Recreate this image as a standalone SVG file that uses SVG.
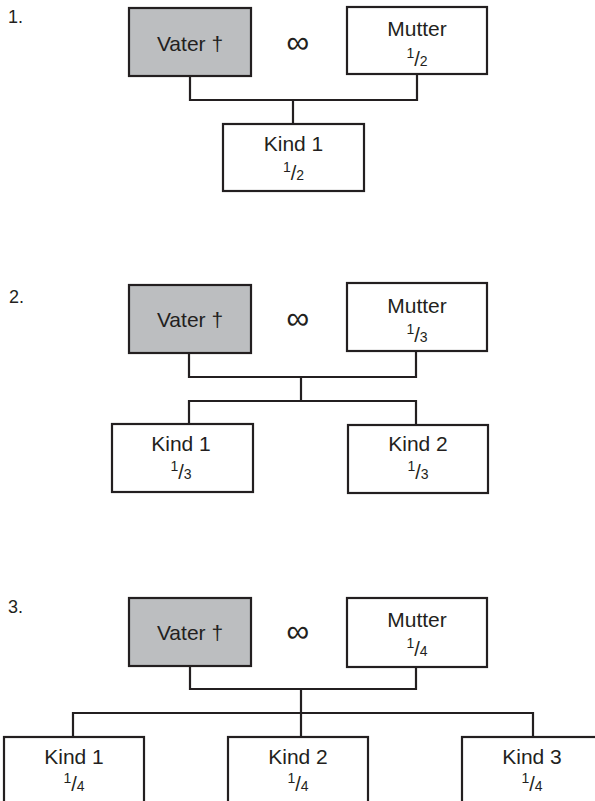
<svg xmlns="http://www.w3.org/2000/svg" width="595" height="801" viewBox="0 0 595 801">
<style>
.box{fill:#fff;stroke:#231f20;stroke-width:2.2}
.dead{fill:#bcbec0;stroke:#231f20;stroke-width:2.2}
.t{font-family:"Liberation Sans",Arial,sans-serif;font-size:21px;fill:#231f20;text-anchor:middle}
.num{font-size:14px}
.sl{font-size:20px}
.lbl{font-family:"Liberation Sans",Arial,sans-serif;font-size:18px;fill:#231f20}
.inf{font-family:"Liberation Sans",Arial,sans-serif;font-size:32px;fill:#231f20;text-anchor:middle}
.c{fill:none;stroke:#231f20;stroke-width:2.2}
</style>
<rect width="595" height="801" fill="#fff"/>

<!-- Section 1 -->
<text class="lbl" x="8" y="23">1.</text>
<g id="s1-vater"><rect class="dead" x="129" y="8" width="122" height="68"/><text class="t" x="190" y="50.5">Vater †</text></g>
<text class="inf" x="298" y="53">∞</text>
<g id="s1-mutter"><rect class="box" x="347" y="7" width="140" height="67"/><text class="t" x="417" y="36">Mutter</text><text class="t" x="417" y="66"><tspan class="num" dy="-8">1</tspan><tspan class="sl" dy="8">/</tspan><tspan class="num">2</tspan></text></g>
<g id="s1-kind1"><rect class="box" x="223" y="124" width="141" height="67"/><text class="t" x="293.5" y="150.5">Kind 1</text><text class="t" x="293.5" y="180"><tspan class="num" dy="-8">1</tspan><tspan class="sl" dy="8">/</tspan><tspan class="num">2</tspan></text></g>

<!-- Section 2 -->
<text class="lbl" x="9" y="303">2.</text>
<g id="s2-vater"><rect class="dead" x="129" y="285" width="122" height="68"/><text class="t" x="190" y="327">Vater †</text></g>
<text class="inf" x="298" y="329">∞</text>
<g id="s2-mutter"><rect class="box" x="347" y="283" width="140" height="68"/><text class="t" x="417" y="312.5">Mutter</text><text class="t" x="417" y="342"><tspan class="num" dy="-8">1</tspan><tspan class="sl" dy="8">/</tspan><tspan class="num">3</tspan></text></g>
<g id="s2-kind1"><rect class="box" x="112" y="424" width="141" height="68"/><text class="t" x="181" y="451">Kind 1</text><text class="t" x="181" y="479"><tspan class="num" dy="-8">1</tspan><tspan class="sl" dy="8">/</tspan><tspan class="num">3</tspan></text></g>
<g id="s2-kind2"><rect class="box" x="348" y="425" width="140" height="68"/><text class="t" x="418" y="451">Kind 2</text><text class="t" x="418" y="479"><tspan class="num" dy="-8">1</tspan><tspan class="sl" dy="8">/</tspan><tspan class="num">3</tspan></text></g>

<!-- Section 3 -->
<text class="lbl" x="8" y="613">3.</text>
<g id="s3-vater"><rect class="dead" x="129" y="598" width="122" height="68"/><text class="t" x="190" y="640">Vater †</text></g>
<text class="inf" x="298" y="642">∞</text>
<g id="s3-mutter"><rect class="box" x="347" y="598" width="140" height="69"/><text class="t" x="417" y="627">Mutter</text><text class="t" x="417" y="656"><tspan class="num" dy="-8">1</tspan><tspan class="sl" dy="8">/</tspan><tspan class="num">4</tspan></text></g>
<g id="s3-kind1"><rect class="box" x="4" y="737" width="140" height="72"/><text class="t" x="74" y="763.5">Kind 1</text><text class="t" x="74" y="791"><tspan class="num" dy="-8">1</tspan><tspan class="sl" dy="8">/</tspan><tspan class="num">4</tspan></text></g>
<g id="s3-kind2"><rect class="box" x="228" y="737" width="140" height="72"/><text class="t" x="298" y="763.5">Kind 2</text><text class="t" x="298" y="791"><tspan class="num" dy="-8">1</tspan><tspan class="sl" dy="8">/</tspan><tspan class="num">4</tspan></text></g>
<g id="s3-kind3"><rect class="box" x="462" y="737" width="140" height="72"/><text class="t" x="532" y="763.5">Kind 3</text><text class="t" x="532" y="791"><tspan class="num" dy="-8">1</tspan><tspan class="sl" dy="8">/</tspan><tspan class="num">4</tspan></text></g>

<g id="connectors">
<path class="c" d="M190,76 V100 H417 V74 M293,100 V124"/>
<path class="c" d="M189,353 V377 H416 V351 M301,377 V401 M189,424 V401 H416 V425"/>
<path class="c" d="M190,666 V689 H416 V667 M301,689 V737 M73,737 V713 H533 V737"/>
</g>
</svg>
